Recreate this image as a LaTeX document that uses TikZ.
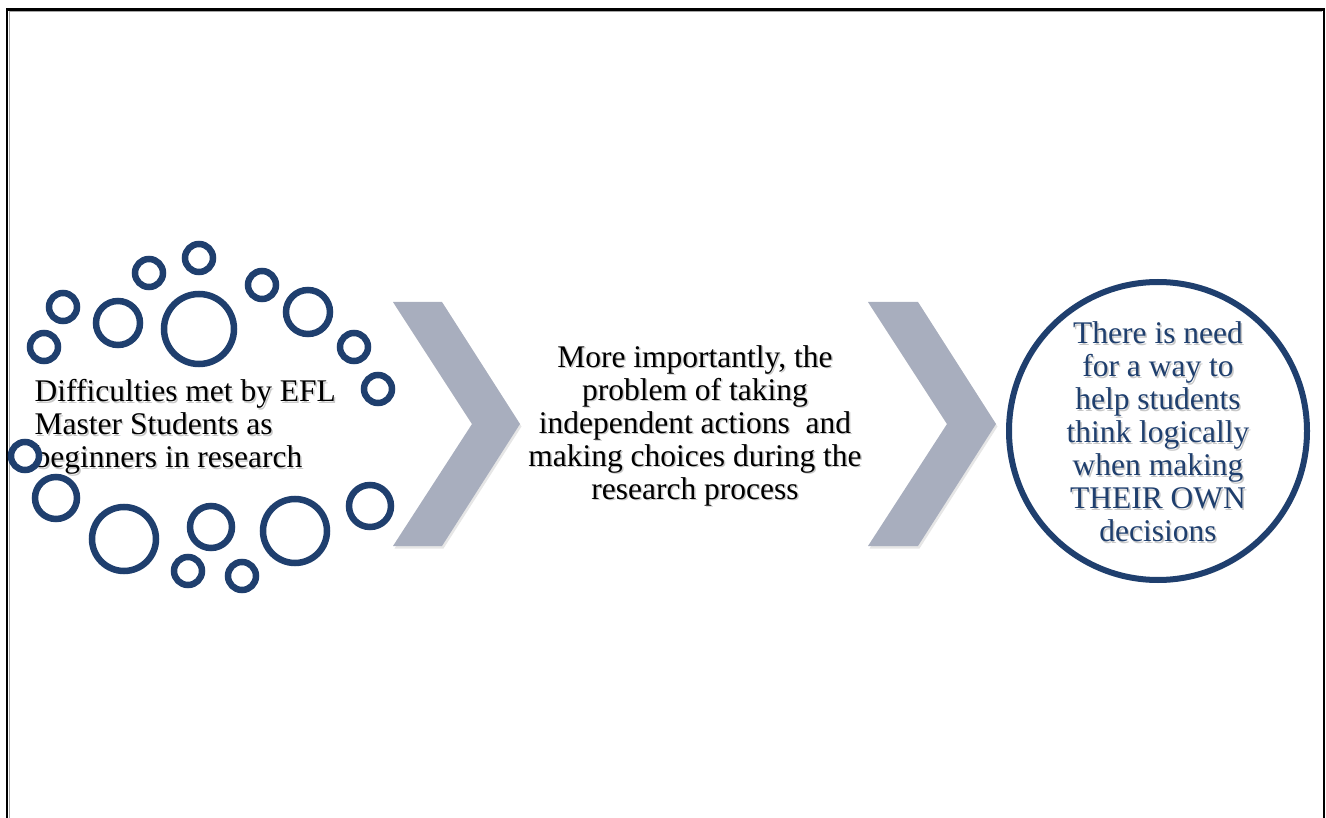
\documentclass[tikz,border=0pt]{standalone}
\usepackage{fontspec}
\setmainfont{Liberation Serif}
\usepackage{tikz}
\usetikzlibrary{shadows}

\definecolor{ringblue}{RGB}{31,63,110}
\definecolor{chevgray}{RGB}{168,174,190}

\begin{document}
\begin{tikzpicture}[x=1pt,y=-1pt,
    ring/.style={circle,draw=ringblue,line width=6.5pt,fill=white,inner sep=0pt,
      drop shadow={shadow xshift=2pt,shadow yshift=-2.5pt,opacity=0.25}},
    chev/.style={fill=chevgray,
      drop shadow={shadow xshift=1.5pt,shadow yshift=-2.5pt,opacity=0.2}},
    txt/.style={font=\fontsize{31.5}{33}\selectfont,inner sep=0pt},
    txtshadow/.style={txt,text=black!30,opacity=0.7}]
   \useasboundingbox (0,0) rectangle (1326,818);

   % frame (open at the bottom)
   \draw[black!35,line width=1.2pt] (9.3,818) -- (9.3,11) -- (1322,11);
   \draw[line width=2.6pt] (7,818) -- (7,9.3) -- (1324,9.3) -- (1324,818);

   % left text, under the bubbles
   \node[txtshadow,align=left,anchor=west] (leftsh) at (36,428.5)
     {Difficulties met by EFL\\Master Students as\\beginners in research};
   \node[txt,align=left,anchor=west] (left) at (34.5,427)
     {Difficulties met by EFL\\Master Students as\\beginners in research};

   % bubbles
   \foreach \x/\y/\r [count=\i] in {199/258/14, 149/273/14, 262/285/14, 63/307/14,
       118/323/22, 199/329/35, 308/312/22, 44/347/14, 354/347/14, 378/389/14,
       25/456/14, 56/498/21, 124/539/32, 211/527/21, 295/531/32, 370/506/21,
       188/571/14, 242/576/14}
     \node[ring,minimum size=2*\r] (b\i) at (\x,\y) {};

   % chevrons
   \fill[chev] (393,302) -- (442,302) -- (520,424) -- (442,546) -- (393,546) -- (472,424) -- cycle;
   \fill[chev] (868,302) -- (918,302) -- (996,424) -- (918,546) -- (868,546) -- (947,424) -- cycle;

   % middle text
   \node[txtshadow,align=center] (midsh) at (696.5,427)
     {More importantly, the\\problem of taking\\independent actions\ \ and\\making choices during the\\research process};
   \node[txt,align=center] (mid) at (695,425.5)
     {More importantly, the\\problem of taking\\independent actions\ \ and\\making choices during the\\research process};

   % right circle
   \node[ring,line width=6pt,minimum size=298] (need) at (1158,431) {};
   \node[txtshadow,align=center] (needsh) at (1159.5,433.5)
     {There is need\\for a way to\\help students\\think logically\\when making\\THEIR OWN\\decisions};
   \node[txt,align=center,text=ringblue] (needtxt) at (1158,432)
     {There is need\\for a way to\\help students\\think logically\\when making\\THEIR OWN\\decisions};
 \end{tikzpicture}
\end{document}
